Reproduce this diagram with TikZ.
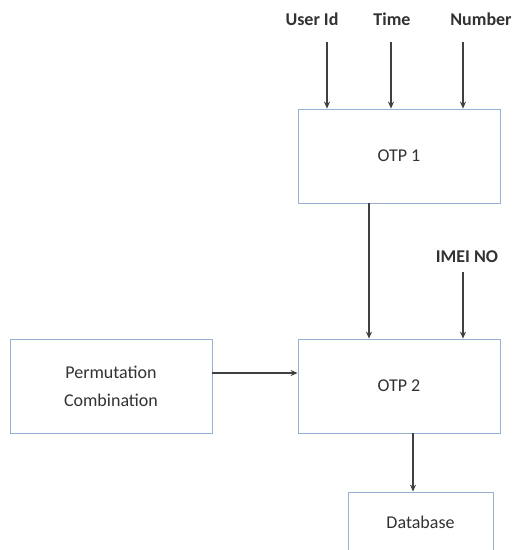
\documentclass[tikz,border=0pt]{standalone}
\usepackage{fontspec}
\setmainfont{Carlito}
\usetikzlibrary{arrows.meta}
\definecolor{boxblue}{RGB}{150,175,210}
\definecolor{boxdark}{RGB}{120,145,185}
\definecolor{linegray}{RGB}{64,64,64}
\definecolor{txtgray}{RGB}{50,50,50}
\begin{document}
\begin{tikzpicture}[x=1pt,y=-1pt,
  box/.style={draw=boxblue,line width=0.8pt,fill=white,minimum width=202pt,minimum height=94pt,inner sep=0pt,align=center,font=\fontsize{18}{28}\selectfont,text=txtgray,
    append after command={[draw=boxdark,line width=1.8pt] (\tikzlastnode.north east) -- (\tikzlastnode.south east) -- (\tikzlastnode.south west)}},
  lbl/.style={font=\bfseries\fontsize{18}{20}\selectfont,text=txtgray,inner sep=0pt},
  arr/.style={draw=linegray,line width=1.5pt,-{Stealth[length=7pt,width=6pt]}}]
\useasboundingbox (0,0) rectangle (515,550);
\node[box] (otp1) at (399,156) {OTP 1};
\node[box] (otp2) at (399,386) {OTP 2};
\node[box] (perm) at (111,386) {Permutation\\Combination};
\node[box,minimum width=145pt,minimum height=60pt] (db) at (420.5,522) {Database};
\node[lbl] (uid) at (312,19) {User Id};
\node[lbl] (time) at (392,19) {Time};
\node[lbl] (num) at (481,19) {Number};
\node[lbl] (imei) at (467,257) {IMEI NO};
\coordinate (uidA) at (327,42);
\coordinate (timeA) at (391,42);
\coordinate (numA) at (463,42);
\coordinate (imeiA) at (463,272);
\coordinate (c1) at (369,0);
\coordinate (c2) at (413,0);
\coordinate (c3) at (0,373);
\draw[arr] (uidA) -- (uidA |- otp1.north);
\draw[arr] (timeA) -- (timeA |- otp1.north);
\draw[arr] (numA) -- (numA |- otp1.north);
\draw[arr] (imeiA) -- (imeiA |- otp2.north);
\draw[arr] (otp1.south -| c1) -- (otp2.north -| c1);
\draw[arr] (otp2.south -| c2) -- (db.north -| c2);
\draw[arr] (perm.east |- c3) -- (otp2.west |- c3);
\end{tikzpicture}
\end{document}
